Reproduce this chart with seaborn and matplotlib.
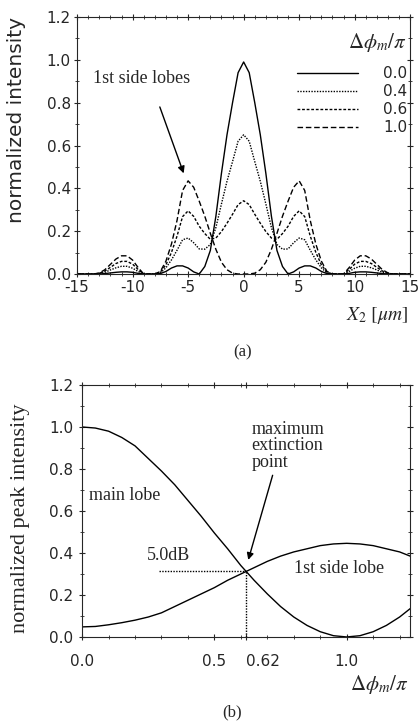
import matplotlib
matplotlib.use("Agg")
import matplotlib.pyplot as plt
import seaborn as sns
import pandas as pd
from matplotlib.ticker import MultipleLocator

# ---- data ----
# (a) intensity profiles vs lateral position x2 [um]
x2 = [-15, -14.5, -14, -13.5, -13, -12.5, -12, -11.5, -11, -10.5,
      -10, -9.5, -9, -8.5, -8, -7.5, -7, -6.5, -6, -5.5,
      -5, -4.5, -4, -3.5, -3, -2.5, -2, -1.5, -1, -0.5,
      0,
      0.5, 1, 1.5, 2, 2.5, 3, 3.5, 4, 4.5, 5,
      5.5, 6, 6.5, 7, 7.5, 8, 8.5, 9, 9.5, 10,
      10.5, 11, 11.5, 12, 12.5, 13, 13.5, 14, 14.5, 15]

int_00 = [0, 0, 0, 0, 0, 0.002, 0.005, 0.008, 0.01, 0.01,
          0.008, 0.003, 0, 0, 0, 0.002, 0.012, 0.028, 0.038, 0.038,
          0.028, 0.01, 0, 0.035, 0.11, 0.27, 0.47, 0.65, 0.80, 0.94,
          0.99,
          0.94, 0.80, 0.65, 0.47, 0.27, 0.11, 0.035, 0, 0.01, 0.028,
          0.038, 0.038, 0.028, 0.012, 0.002, 0, 0, 0, 0.003, 0.008,
          0.01, 0.01, 0.008, 0.005, 0.002, 0, 0, 0, 0, 0]

int_04 = [0, 0, 0, 0, 0.002, 0.008, 0.019, 0.029, 0.036, 0.036,
          0.027, 0.012, 0, 0, 0, 0.005, 0.029, 0.066, 0.111, 0.16,
          0.168, 0.146, 0.117, 0.116, 0.138, 0.217, 0.327, 0.433, 0.525, 0.62,
          0.65,
          0.62, 0.525, 0.433, 0.327, 0.217, 0.138, 0.116, 0.117, 0.146, 0.168,
          0.16, 0.111, 0.066, 0.029, 0.005, 0, 0, 0, 0.012, 0.027,
          0.036, 0.036, 0.029, 0.019, 0.008, 0.002, 0, 0, 0, 0]

int_06 = [0, 0, 0, 0, 0.003, 0.014, 0.031, 0.049, 0.059, 0.059,
          0.046, 0.021, 0, 0, 0, 0.009, 0.043, 0.101, 0.177, 0.268,
          0.295, 0.269, 0.223, 0.189, 0.162, 0.168, 0.198, 0.237, 0.279, 0.324,
          0.342,
          0.324, 0.279, 0.237, 0.198, 0.168, 0.162, 0.189, 0.223, 0.269, 0.295,
          0.268, 0.177, 0.101, 0.043, 0.009, 0, 0, 0, 0.021, 0.046,
          0.059, 0.059, 0.049, 0.031, 0.014, 0.003, 0, 0, 0, 0]

int_10 = [0, 0, 0, 0, 0.005, 0.02, 0.045, 0.07, 0.085, 0.085,
          0.065, 0.03, 0, 0, 0, 0.012, 0.06, 0.14, 0.25, 0.39,
          0.435, 0.405, 0.34, 0.27, 0.19, 0.115, 0.055, 0.02, 0.004, 0,
          0,
          0, 0.004, 0.02, 0.055, 0.115, 0.19, 0.27, 0.34, 0.405, 0.435,
          0.39, 0.25, 0.14, 0.06, 0.012, 0, 0, 0, 0.03, 0.065,
          0.085, 0.085, 0.07, 0.045, 0.02, 0.005, 0, 0, 0, 0]

phase_labels = ["0.0", "0.4", "0.6", "1.0"]

# (b) peak intensities vs phase shift
dphi = [0, 0.05, 0.1, 0.15, 0.2, 0.25, 0.3, 0.35, 0.4, 0.45,
        0.5, 0.55, 0.6, 0.65, 0.7, 0.75, 0.8, 0.85, 0.9, 0.95,
        1.0, 1.05, 1.1, 1.15, 1.2, 1.24]
main_lobe = [1.0, 0.995, 0.98, 0.95, 0.91, 0.85, 0.79, 0.725, 0.65, 0.575,
             0.495, 0.42, 0.34, 0.27, 0.205, 0.145, 0.095, 0.055, 0.025, 0.006,
             0.0, 0.006, 0.025, 0.055, 0.095, 0.135]
side_lobe = [0.048, 0.05, 0.058, 0.068, 0.08, 0.095, 0.115, 0.145, 0.175, 0.205,
             0.235, 0.27, 0.30, 0.33, 0.36, 0.385, 0.405, 0.42, 0.435, 0.443,
             0.446, 0.443, 0.435, 0.42, 0.405, 0.385]
cross_x = 0.62
cross_y = 0.313

# ---- style ----
sns.set_style("ticks")
plt.rcParams["font.family"] = ["DejaVu Sans"]
plt.rcParams["mathtext.fontset"] = "stix"
serif = ["Liberation Serif", "DejaVu Serif"]

fig = plt.figure(figsize=(4.19, 7.23), dpi=100)
ax1 = fig.add_axes([0.184, 0.621, 0.795, 0.3555])
ax2 = fig.add_axes([0.196, 0.119, 0.783, 0.3485])

# ---- (a) ----
styles = ["-", (0, (1, 1)), (0, (2, 1.3)), (0, (4, 2))]
for lab, yy, ls in zip(phase_labels, [int_00, int_04, int_06, int_10], styles):
    sns.lineplot(x=x2, y=yy, ax=ax1, color="black", lw=1.0,
                 linestyle=ls, label=lab)

ax1.set_xlim(-15, 15)
ax1.set_ylim(0, 1.2)
ax1.xaxis.set_major_locator(MultipleLocator(5))
ax1.xaxis.set_minor_locator(MultipleLocator(1))
ax1.yaxis.set_major_locator(MultipleLocator(0.2))
ax1.yaxis.set_minor_locator(MultipleLocator(0.1))
ax1.set_xticklabels([f"{int(v)}" for v in ax1.get_xticks()])
ax1.set_yticklabels([f"{v:.1f}" for v in ax1.get_yticks()])
ax1.tick_params(which="both", direction="inout", top=True, right=True,
                labelsize=11, pad=2)
ax1.tick_params(which="major", length=5)
ax1.tick_params(which="minor", length=3)
ax1.set_xlabel("")
ax1.set_ylabel("")

# legend: title drawn separately so the gap matches the original
ax1.text(0.99, (274 - 43) / 257, r"$\Delta\phi_m/\pi$", transform=ax1.transAxes,
         fontsize=15, ha="right", va="center")
leg = ax1.legend(loc="upper right", bbox_to_anchor=(1.0, (274 - 63) / 257),
                 frameon=False, fontsize=11, handlelength=4.0,
                 handletextpad=1.6, labelspacing=0.2, borderaxespad=0.2,
                 borderpad=0.0)

ax1.text(-13.6, 0.915, "1st side lobes", family=serif, fontsize=13,
         va="center", ha="left")
ax1.annotate("", xy=(-5.4, 0.47), xytext=(-7.55, 0.78),
             arrowprops=dict(arrowstyle="-|>", color="black", lw=1.0,
                             shrinkA=0, shrinkB=0, mutation_scale=10))

fig.text(0.974, 1 - 305 / 723, r"$X_2\ [\mu m]$", fontsize=14,
         ha="right", va="top")
fig.text(0.040, 1 - 120 / 723, "normalized intensity", fontsize=14.5,
         rotation=90, ha="center", va="center")
fig.text(243 / 419, 1 - 352 / 723, "(a)", family=serif, fontsize=12,
         ha="center", va="center")

# ---- (b) ----
sns.lineplot(x=dphi, y=main_lobe, ax=ax2, color="black", lw=1.0)
sns.lineplot(x=dphi, y=side_lobe, ax=ax2, color="black", lw=1.0)
ax2.hlines(cross_y, 0.29, cross_x, colors="black", linestyles=(0, (1, 1)), lw=1.0)
ax2.vlines(cross_x, 0, cross_y, colors="black", linestyles=(0, (1, 1)), lw=1.0)

ax2.set_xlim(0, 1.24)
ax2.set_ylim(0, 1.2)
ax2.set_xticks([0.0, 0.5, cross_x, 1.0])
ax2.set_xticklabels(["0.0", "0.5", "0.62", "1.0"])
ax2.get_xticklabels()[2].set_ha("left")
ax2.xaxis.set_minor_locator(MultipleLocator(0.1))
ax2.yaxis.set_major_locator(MultipleLocator(0.2))
ax2.yaxis.set_minor_locator(MultipleLocator(0.1))
ax2.set_yticklabels([f"{v:.1f}" for v in ax2.get_yticks()])
ax2.tick_params(which="both", direction="inout", top=True, right=True,
                labelsize=11)
ax2.tick_params(axis="x", pad=10)
ax2.tick_params(axis="y", pad=4)
ax2.tick_params(which="major", length=5)
ax2.tick_params(which="minor", length=3)

ax2.text(0.025, 0.675, "main lobe", family=serif, fontsize=13, va="center")
ax2.text(0.325, 0.39, "5.0dB", family=serif, fontsize=13, va="center",
         ha="center")
ax2.text(0.80, 0.327, "1st side lobe", family=serif, fontsize=13, va="center")
ax2.text(0.64, 0.91, "maximum\nextinction\npoint", family=serif, fontsize=13,
         va="center", ha="left", linespacing=0.95)
ax2.annotate("", xy=(0.628, 0.367), xytext=(0.72, 0.77),
             arrowprops=dict(arrowstyle="-|>", color="black", lw=1.0,
                             shrinkA=0, shrinkB=0, mutation_scale=10))

fig.text(0.974, 1 - 673 / 723, r"$\Delta\phi_m/\pi$", fontsize=15,
         ha="right", va="top")
fig.text(0.048, 1 - 518 / 723, "normalized peak intensity", family=serif,
         fontsize=16, rotation=90, ha="center", va="center")
fig.text(232 / 419, 1 - 712 / 723, "(b)", family=serif, fontsize=12,
         ha="center", va="center")

fig.savefig("out.png", dpi=100)
